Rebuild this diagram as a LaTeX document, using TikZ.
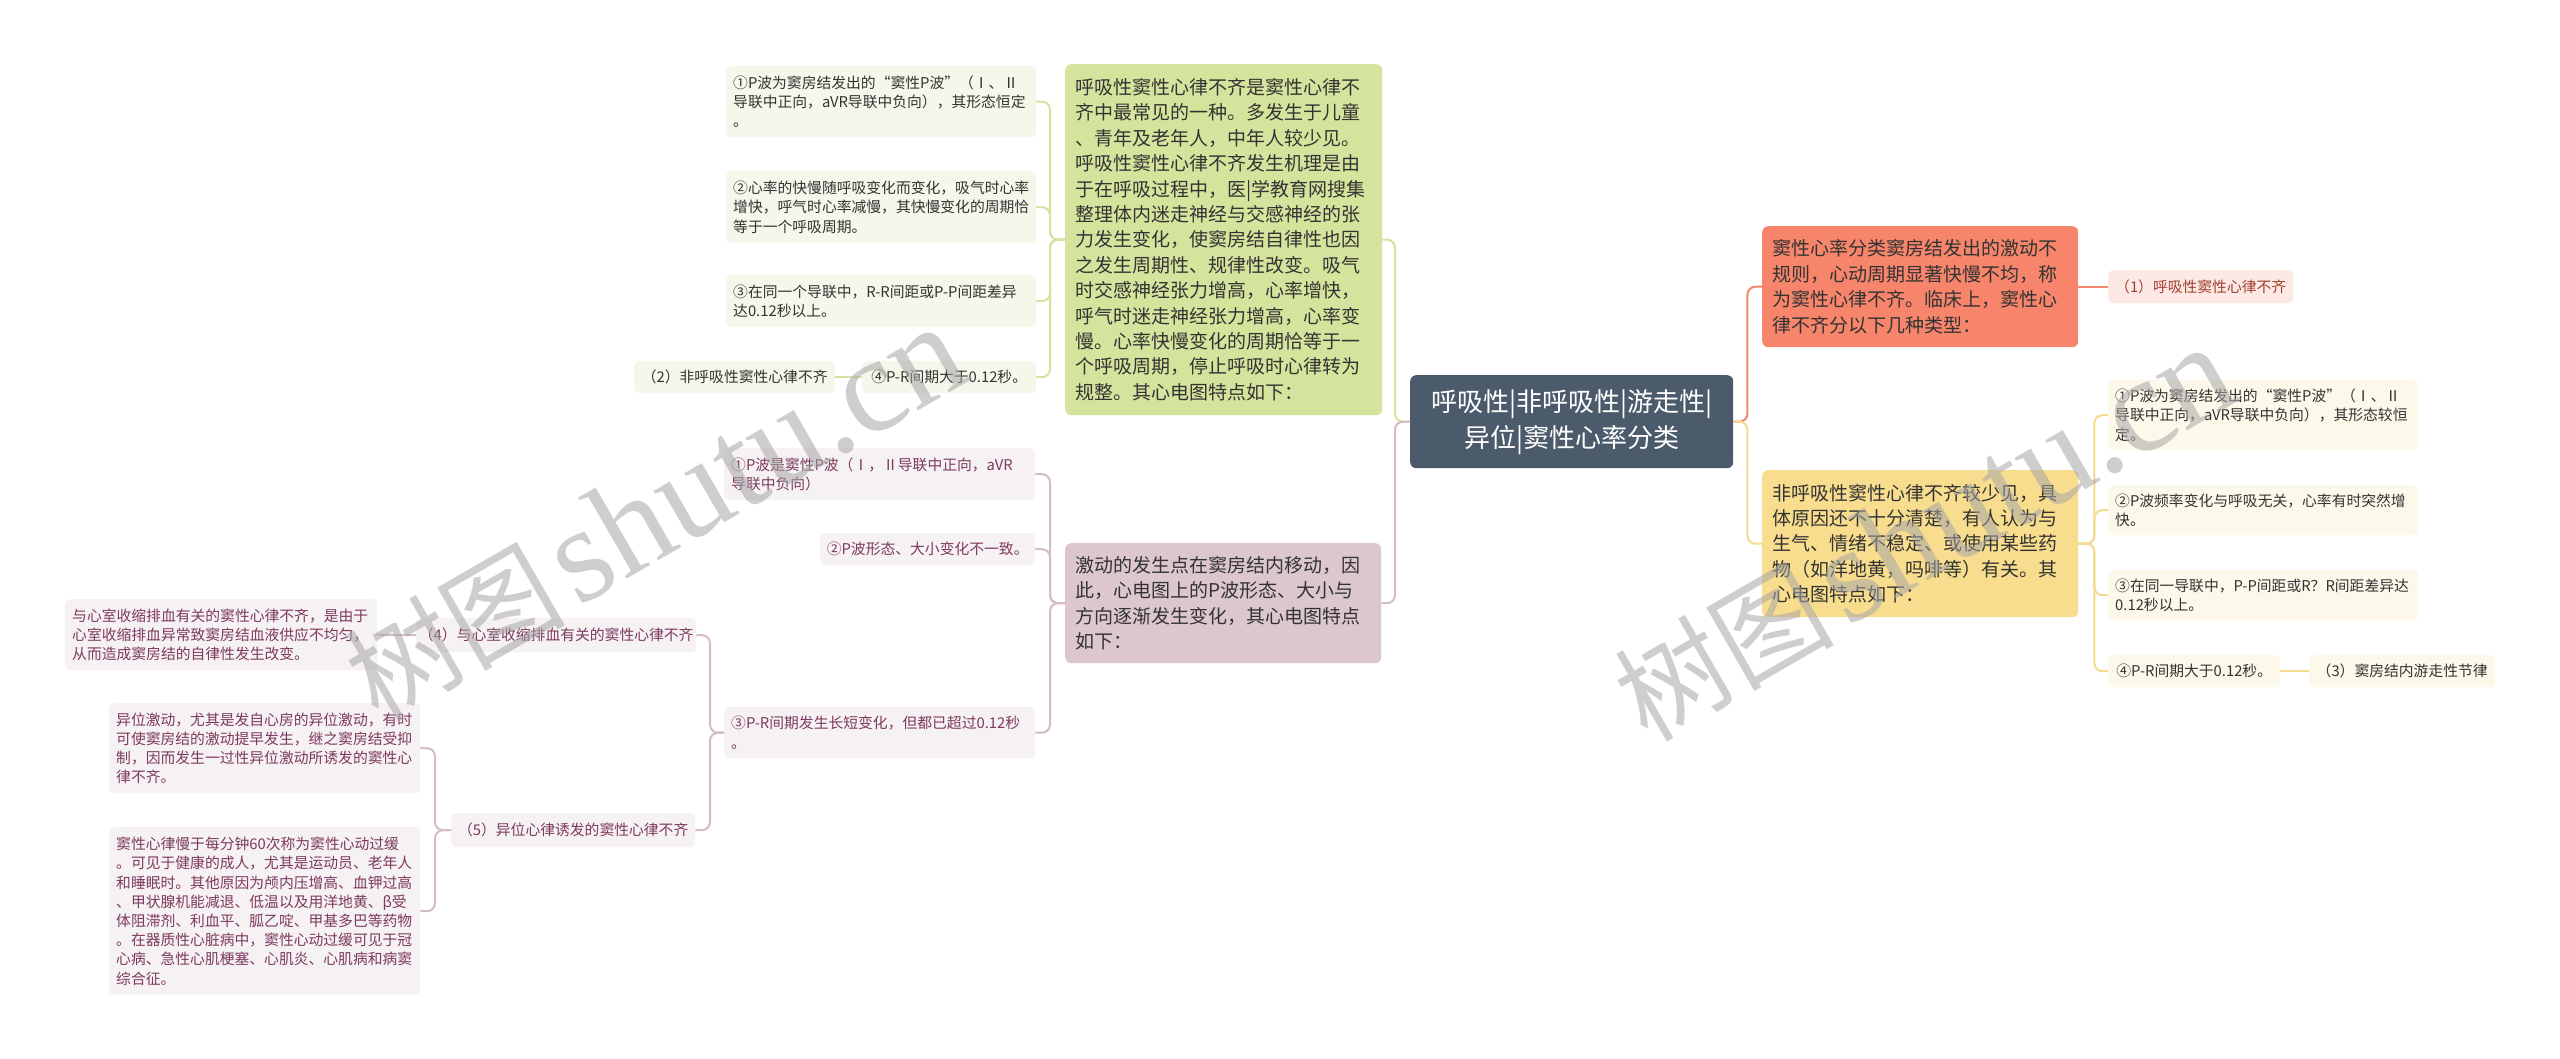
\documentclass[tikz,border=0pt]{standalone}
\usepackage{fontspec}
\setmainfont{Noto Sans CJK SC}
\newfontfamily\wmlat{Liberation Serif}
\usetikzlibrary{calc}
\definecolor{rootc}{HTML}{4B5B6B}
\definecolor{grn}{HTML}{D5E49D}
\definecolor{grnl}{HTML}{F4F7EA}
\definecolor{grnline}{HTML}{D5E39F}
\definecolor{mau}{HTML}{DCC7D0}
\definecolor{maul}{HTML}{F6F1F3}
\definecolor{mauline}{HTML}{D3BCC6}
\definecolor{mautext}{HTML}{7D3A5E}
\definecolor{org}{HTML}{F7856B}
\definecolor{orgline}{HTML}{F2896F}
\definecolor{pinkl}{HTML}{FCE9E5}
\definecolor{pinktext}{HTML}{A03F2C}
\definecolor{yel}{HTML}{F8DD8E}
\definecolor{yell}{HTML}{FDF9EA}
\definecolor{yelline}{HTML}{F5DB8F}
\definecolor{txt}{HTML}{333333}
\begin{document}
\begin{tikzpicture}[x=1pt,y=-1pt,
  mainbox/.style={rectangle, rounded corners=6pt, inner xsep=10pt, inner ysep=0pt, align=left,
    anchor=north west, font=\fontsize{19}{25.4}\selectfont, text=txt},
  subbox/.style={rectangle, rounded corners=5pt, inner xsep=7pt, inner ysep=0pt, align=left,
    anchor=north west, font=\fontsize{14.8}{19.2}\selectfont},
  onebox/.style={rectangle, rounded corners=5pt, inner sep=0pt, align=center,
    anchor=north west, font=\fontsize{14.8}{19.2}\selectfont},
  conn/.style={line width=2pt, rounded corners=8pt},
  wm/.style={rotate=30, text=gray!70, text opacity=0.55, inner sep=0pt}]
\useasboundingbox[fill=white] (0,0) rectangle (2560,1059);

% root
\node[rectangle, rounded corners=6pt, fill=rootc, text=white, align=center, inner sep=0pt,
  minimum width=323, minimum height=93, anchor=north west,
  font=\fontsize{26}{36}\selectfont] (root) at (1410,375)
  {呼吸性|非呼吸性|游走性|\\异位|窦性心率分类};

% green branch
\node[mainbox, fill=grn, text width=297, minimum height=351] (G) at (1065,64)
{呼吸性窦性心律不齐是窦性心律不\\
齐中最常见的一种。多发生于儿童\\
、青年及老年人，中年人较少见。\\
呼吸性窦性心律不齐发生机理是由\\
于在呼吸过程中，医|学教育网搜集\\
整理体内迷走神经与交感神经的张\\
力发生变化，使窦房结自律性也因\\
之发生周期性、规律性改变。吸气\\
时交感神经张力增高，心率增快，\\
呼气时迷走神经张力增高，心率变\\
慢。心率快慢变化的周期恰等于一\\
个呼吸周期，停止呼吸时心律转为\\
规整。其心电图特点如下：};

\node[subbox, fill=grnl, text=txt, text width=296, minimum height=71] (g1) at (726,66)
{①P波为窦房结发出的“窦性P波”（Ⅰ、Ⅱ\\导联中正向，aVR导联中负向），其形态恒定\\。};
\node[subbox, fill=grnl, text=txt, text width=296, minimum height=72] (g2) at (726,171)
{②心率的快慢随呼吸变化而变化，吸气时心率\\增快，呼气时心率减慢，其快慢变化的周期恰\\等于一个呼吸周期。};
\node[subbox, fill=grnl, text=txt, text width=296, minimum height=52] (g3) at (726,275)
{③在同一个导联中，R-R间距或P-P间距差异\\达0.12秒以上。};
\node[onebox, fill=grnl, text=txt, minimum width=174, minimum height=32] (g4) at (862,361)
{④P-R间期大于0.12秒。};
\node[onebox, fill=grnl, text=txt, minimum width=201, minimum height=32] (g2x) at (634,361)
{（2）非呼吸性窦性心律不齐};

% mauve branch
\node[mainbox, fill=mau, text width=296, minimum height=120] (M) at (1065,543)
{激动的发生点在窦房结内移动，因\\此，心电图上的P波形态、大小与\\方向逐渐发生变化，其心电图特点\\如下：};

\node[subbox, fill=maul, text=mautext, text width=297, minimum height=52] (m1) at (724,448)
{①P波是窦性P波（Ⅰ，Ⅱ导联中正向，aVR\\导联中负向）};
\node[onebox, fill=maul, text=mautext, minimum width=215, minimum height=32] (m2) at (820,533)
{②P波形态、大小变化不一致。};
\node[subbox, fill=maul, text=mautext, text width=297, minimum height=51] (m3) at (724,707)
{③P-R间期发生长短变化，但都已超过0.12秒\\。};
\node[onebox, fill=maul, text=mautext, minimum width=280, minimum height=34] (m4) at (416,618)
{（4）与心室收缩排血有关的窦性心律不齐};
\node[subbox, fill=maul, text=mautext, text width=298, minimum height=71] (m4c) at (65,599)
{与心室收缩排血有关的窦性心律不齐，是由于\\心室收缩排血异常致窦房结血液供应不均匀，\\从而造成窦房结的自律性发生改变。};
\node[onebox, fill=maul, text=mautext, minimum width=244, minimum height=34] (m5) at (451,813)
{（5）异位心律诱发的窦性心律不齐};
\node[subbox, fill=maul, text=mautext, text width=297, minimum height=90] (m5a) at (109,703)
{异位激动，尤其是发自心房的异位激动，有时\\可使窦房结的激动提早发生，继之窦房结受抑\\制，因而发生一过性异位激动所诱发的窦性心\\律不齐。};
\node[subbox, fill=maul, text=mautext, text width=297, minimum height=168] (m5b) at (109,827)
{窦性心律慢于每分钟60次称为窦性心动过缓\\。可见于健康的成人，尤其是运动员、老年人\\和睡眠时。其他原因为颅内压增高、血钾过高\\、甲状腺机能减退、低温以及用洋地黄、β受\\体阻滞剂、利血平、胍乙啶、甲基多巴等药物\\。在器质性心脏病中，窦性心动过缓可见于冠\\心病、急性心肌梗塞、心肌炎、心肌病和病窦\\综合征。};

% orange branch
\node[mainbox, fill=org, text width=296, minimum height=121] (O) at (1762,226)
{窦性心率分类窦房结发出的激动不\\规则，心动周期显著快慢不均，称\\为窦性心律不齐。临床上，窦性心\\律不齐分以下几种类型：};
\node[onebox, fill=pinkl, text=pinktext, minimum width=185, minimum height=33] (R1) at (2108,270)
{（1）呼吸性窦性心律不齐};

% yellow branch
\node[mainbox, fill=yel, text width=296, minimum height=147] (Y) at (1762,470)
{非呼吸性窦性心律不齐较少见，具\\体原因还不十分清楚，有人认为与\\生气、情绪不稳定、或使用某些药\\物（如洋地黄，吗啡等）有关。其\\心电图特点如下：};
\node[subbox, fill=yell, text=txt, text width=296, minimum height=70] (y1) at (2108,380)
{①P波为窦房结发出的“窦性P波”（Ⅰ、Ⅱ\\导联中正向，aVR导联中负向），其形态较恒\\定。};
\node[subbox, fill=yell, text=txt, text width=296, minimum height=50] (y2) at (2108,485)
{②P波频率变化与呼吸无关，心率有时突然增\\快。};
\node[subbox, fill=yell, text=txt, text width=296, minimum height=50] (y3) at (2108,570)
{③在同一导联中，P-P间距或R？R间距差异达\\0.12秒以上。};
\node[onebox, fill=yell, text=txt, minimum width=172, minimum height=32] (y4) at (2108,655)
{④P-R间期大于0.12秒。};
\node[onebox, fill=yell, text=txt, minimum width=186, minimum height=32] (y5) at (2309,655)
{（3）窦房结内游走性节律};

% connectors
\draw[conn, grnline] (root.west) -- ++(-15,0) |- (G.east);
\draw[conn, mauline] (root.west) -- ++(-15,0) |- (M.east);
\draw[conn, orgline] (root.east) -- ++(14,0) |- (O.west);
\draw[conn, yelline] (root.east) -- ++(14,0) |- (Y.west);

\foreach \c in {g1,g2,g3,g4}
  \draw[conn, grnline] (G.west) -- ++(-15,0) |- (\c.east);
\draw[conn, grnline] (g4.west) -- (g2x.east);

\foreach \c in {m1,m2,m3}
  \draw[conn, mauline] (M.west) -- ++(-15,0) |- (\c.east);
\foreach \c in {m4,m5}
  \draw[conn, mauline] (m3.west) -- ++(-14,0) |- (\c.east);
\draw[conn, mauline] (m4.west) -- (m4c.east);
\foreach \c in {m5a,m5b}
  \draw[conn, mauline] (m5.west) -- ++(-16,0) |- (\c.east);

\draw[conn, orgline] (O.east) -- (R1.west);
\foreach \c in {y1,y2,y3,y4}
  \draw[conn, yelline] (Y.east) -- ++(16,0) |- (\c.west);
\draw[conn, yelline] (y4.east) -- (y5.west);

% watermarks
\node[wm] (wm1) at (655,514) {{\fontsize{110}{110}\selectfont 树图}\hspace{12pt}{\wmlat\fontsize{136}{136}\selectfont shutu.cn}};
\node[wm] (wm2) at (1924,534) {{\fontsize{110}{110}\selectfont 树图}\hspace{12pt}{\wmlat\fontsize{136}{136}\selectfont shutu.cn}};
\end{tikzpicture}
\end{document}
